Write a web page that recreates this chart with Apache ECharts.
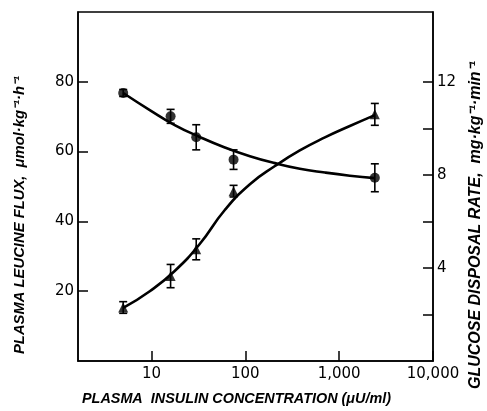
<!DOCTYPE html>
<html>
<head>
<meta charset="utf-8">
<script src="https://cdn.jsdelivr.net/npm/echarts@6/dist/echarts.min.js"></script>
<style>
  html, body { margin: 0; padding: 0; background: #fff; }
  #chart { width: 487px; height: 411px; }
</style>
</head>
<body>
<div id="chart"></div>
<script>
// ---- data ----
const insulin = [5, 16, 30, 75, 2400];              // μU/ml
const leucineFlux = [76.8, 70.1, 64.1, 57.7, 52.5];  // μmol·kg-1·h-1 (circles, left axis)
const leucineErr = [1.0, 2.0, 3.6, 2.8, 4.0];
const glucoseRate = [2.3, 3.65, 4.8, 7.3, 10.6];    // mg·kg-1·min-1 (triangles, right axis)
const glucoseErr = [0.25, 0.5, 0.45, 0.25, 0.47];

// fitted curves
const fitX = [5, 9.6, 17.7, 32.7, 60.5, 112, 207, 381, 705, 1300, 2400];
const leucineFitY = [76.8, 71.9, 67.6, 64.2, 61.2, 58.7, 56.7, 55.1, 54.0, 53.1, 52.4];
const glucoseFitY = [2.28, 3.0, 3.87, 5.03, 6.49, 7.6, 8.38, 9.05, 9.61, 10.1, 10.57];

const xTickLabels = [10, 100, 1000, 10000];
const leftTicks = [20, 40, 60, 80];
const rightTicks = [2, 4, 6, 8, 10, 12];
const rightTickLabels = [4, 8, 12];

const xTitle = 'PLASMA  INSULIN CONCENTRATION (\u03BCU/ml)';
const leftTitle = 'PLASMA LEUCINE FLUX,  \u03BCmol\u00B7kg\u207B\u00B9\u00B7h\u207B\u00B9';
const rightTitle = 'GLUCOSE DISPOSAL RATE,  mg\u00B7kg\u207B\u00B9\u00B7min\u207B\u00B9';

const zip = (xs, ys) => xs.map((x, i) => [x, ys[i]]);
const withErr = (xs, ys, es) => xs.map((x, i) => [x, ys[i], es[i]]);

function fmtThousands(v) {
  const r = Math.round(v);
  return String(r).replace(/\B(?=(\d{3})+(?!\d))/g, ',');
}

const labelFont = { fontFamily: 'DejaVu Sans', fontSize: 15, color: '#000' };

function errorBarRender(params, api) {
  const x = api.value(0), y = api.value(1), e = api.value(2);
  const top = api.coord([x, y + e]);
  const bot = api.coord([x, y - e]);
  const cap = 4;
  const st = { stroke: '#000', lineWidth: 1.6 };
  return {
    type: 'group',
    children: [
      { type: 'line', shape: { x1: top[0], y1: top[1], x2: bot[0], y2: bot[1] }, style: st },
      { type: 'line', shape: { x1: top[0] - cap, y1: top[1], x2: top[0] + cap, y2: top[1] }, style: st },
      { type: 'line', shape: { x1: bot[0] - cap, y1: bot[1], x2: bot[0] + cap, y2: bot[1] }, style: st }
    ]
  };
}

const chart = echarts.init(document.getElementById('chart'), null, { renderer: 'canvas' });
chart.setOption({
  animation: false,
  backgroundColor: '#fff',
  grid: {
    left: 78, right: 54, top: 12, bottom: 50,
    show: true, borderColor: '#000', borderWidth: 1.5, backgroundColor: 'transparent'
  },
  xAxis: {
    type: 'log', logBase: 10, min: 1.65, max: 10000,
    axisLine: { show: true, lineStyle: { color: '#000', width: 1.5 } },
    axisTick: { show: true, inside: true, length: 10, lineStyle: { color: '#000', width: 1.5 } },
    axisLabel: Object.assign({
      margin: 6,
      showMinLabel: false,
      formatter: v => (xTickLabels.some(t => Math.abs(t - v) / t < 1e-3)) ? fmtThousands(v) : ''
    }, labelFont),
    splitLine: { show: false }
  },
  yAxis: [
    {
      type: 'value', min: 0, max: 100, interval: 20, position: 'left',
      axisLine: { show: true, lineStyle: { color: '#000', width: 1.5 } },
      axisTick: { show: true, inside: true, length: 10, customValues: leftTicks,
                  lineStyle: { color: '#000', width: 1.5 } },
      axisLabel: Object.assign({
        margin: 4, customValues: leftTicks,
        formatter: v => leftTicks.indexOf(v) >= 0 ? String(v) : ''
      }, labelFont),
      splitLine: { show: false }
    },
    {
      type: 'value', min: 0, max: 15, interval: 2, position: 'right',
      axisLine: { show: true, lineStyle: { color: '#000', width: 1.5 } },
      axisTick: { show: true, inside: true, length: 10, customValues: rightTicks,
                  lineStyle: { color: '#000', width: 1.5 } },
      axisLabel: Object.assign({
        margin: 4, customValues: rightTickLabels,
        formatter: v => rightTickLabels.indexOf(v) >= 0 ? String(v) : ''
      }, labelFont),
      splitLine: { show: false }
    }
  ],
  graphic: [
    { type: 'text', x: 20, y: 354, rotation: Math.PI / 2,
      style: { text: leftTitle, fill: '#000', font: 'italic bold 14.8px "Liberation Sans"',
               textAlign: 'left', textVerticalAlign: 'middle' } },
    { type: 'text', x: 476, y: 389, rotation: Math.PI / 2,
      style: { text: rightTitle, fill: '#000', font: 'italic bold 16px "Liberation Sans"',
               textAlign: 'left', textVerticalAlign: 'middle' } },
    { type: 'text', x: 82, y: 399,
      style: { text: xTitle, fill: '#000', font: 'italic bold 14.4px "Liberation Sans"',
               textAlign: 'left', textVerticalAlign: 'middle' } }
  ],
  series: [
    { name: 'leucine fit', type: 'line', yAxisIndex: 0, data: zip(fitX, leucineFitY),
      smooth: 0.5, showSymbol: false, lineStyle: { color: '#000', width: 2.6 } },
    { name: 'glucose fit', type: 'line', yAxisIndex: 1, data: zip(fitX, glucoseFitY),
      smooth: 0.5, showSymbol: false, lineStyle: { color: '#000', width: 2.6 } },
    { name: 'leucine', type: 'scatter', yAxisIndex: 0, data: zip(insulin, leucineFlux),
      symbol: 'circle', symbolSize: 10, itemStyle: { color: '#000' } },
    { name: 'glucose', type: 'scatter', yAxisIndex: 1, data: zip(insulin, glucoseRate),
      symbol: 'triangle', symbolSize: 10, itemStyle: { color: '#000' } },
    { name: 'leucine err', type: 'custom', yAxisIndex: 0, renderItem: errorBarRender,
      data: withErr(insulin, leucineFlux, leucineErr), z: 3 },
    { name: 'glucose err', type: 'custom', yAxisIndex: 1, renderItem: errorBarRender,
      data: withErr(insulin, glucoseRate, glucoseErr), z: 3 }
  ]
});
</script>
</body>
</html>
